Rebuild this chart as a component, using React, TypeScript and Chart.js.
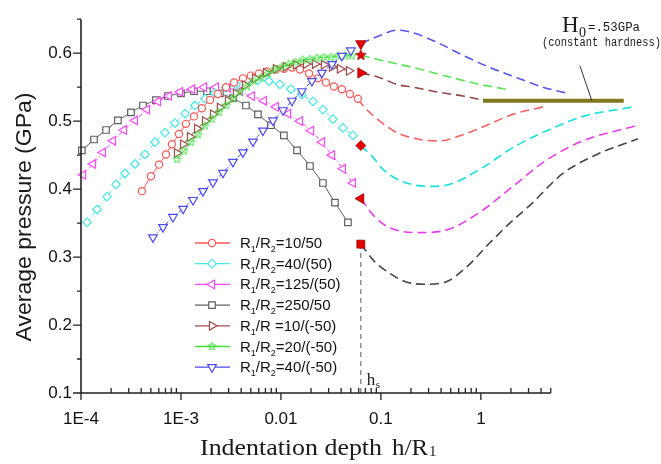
import React, { useEffect, useRef } from 'react';
import { Chart, registerables } from 'chart.js';

Chart.register(...registerables);

// ---------------- data ----------------
const hs = 0.063;

const redX = [4.07e-4, 5.01e-4, 6.03e-4, 7.08e-4, 8.13e-4, 9.55e-4, 1.12e-3, 1.35e-3, 1.62e-3, 1.95e-3, 2.34e-3, 2.82e-3, 3.39e-3, 4.17e-3, 5.01e-3, 6.03e-3, 7.24e-3, 8.91e-3, 1.07e-2, 1.29e-2, 1.55e-2, 1.91e-2, 2.34e-2, 2.82e-2, 3.39e-2, 4.07e-2, 4.90e-2, 5.89e-2];
const redY = [0.397, 0.419, 0.436, 0.451, 0.466, 0.481, 0.496, 0.507, 0.519, 0.531, 0.540, 0.550, 0.557, 0.563, 0.567, 0.570, 0.573, 0.576, 0.577, 0.579, 0.576, 0.570, 0.563, 0.557, 0.551, 0.547, 0.540, 0.533];
const redDashX = [5.89e-2, 6.61e-2, 9.77e-2, 0.145, 0.245, 0.389, 0.661, 1.15, 2.09, 4.17];
const redDashY = [0.533, 0.523, 0.500, 0.483, 0.473, 0.471, 0.480, 0.494, 0.510, 0.521];

const cyanX = [1.15e-4, 1.45e-4, 1.82e-4, 2.24e-4, 2.75e-4, 3.47e-4, 4.37e-4, 5.50e-4, 6.92e-4, 8.71e-4, 1.10e-3, 1.38e-3, 1.74e-3, 2.19e-3, 2.82e-3, 3.55e-3, 4.57e-3, 5.89e-3, 7.59e-3, 9.77e-3, 1.26e-2, 1.62e-2, 2.09e-2, 2.63e-2, 3.31e-2, 4.17e-2, 5.25e-2];
const cyanY = [0.351, 0.370, 0.389, 0.407, 0.423, 0.437, 0.451, 0.469, 0.483, 0.497, 0.511, 0.523, 0.533, 0.541, 0.549, 0.554, 0.559, 0.560, 0.559, 0.554, 0.547, 0.539, 0.529, 0.517, 0.503, 0.490, 0.479];
const cyanDashX = [0.063, 0.0832, 0.105, 0.166, 0.309, 0.490, 0.977, 2.09, 4.57, 10.5, 33.1];
const cyanDashY = [0.464, 0.447, 0.429, 0.411, 0.404, 0.407, 0.429, 0.461, 0.486, 0.507, 0.521];

const magentaX = [1.05e-4, 1.32e-4, 1.66e-4, 2.09e-4, 2.69e-4, 3.47e-4, 4.57e-4, 5.89e-4, 7.59e-4, 9.77e-4, 1.29e-3, 1.70e-3, 2.24e-3, 2.95e-3, 3.89e-3, 5.13e-3, 6.76e-3, 8.91e-3, 1.18e-2, 1.55e-2, 2.00e-2, 2.57e-2, 3.24e-2, 4.17e-2, 5.25e-2];
const magentaY = [0.421, 0.437, 0.454, 0.471, 0.487, 0.501, 0.517, 0.529, 0.537, 0.543, 0.547, 0.550, 0.550, 0.549, 0.544, 0.537, 0.530, 0.521, 0.511, 0.500, 0.486, 0.469, 0.450, 0.430, 0.409];
const magentaDashX = [0.063, 0.0871, 0.123, 0.245, 0.457, 0.977, 2.09, 4.57, 10.5, 34.7];
const magentaDashY = [0.386, 0.359, 0.343, 0.336, 0.340, 0.366, 0.404, 0.443, 0.471, 0.493];

const grayX = [1.02e-4, 1.35e-4, 1.78e-4, 2.34e-4, 3.16e-4, 4.17e-4, 5.62e-4, 7.41e-4, 1.00e-3, 1.35e-3, 1.82e-3, 2.45e-3, 3.31e-3, 4.47e-3, 5.89e-3, 7.94e-3, 1.07e-2, 1.45e-2, 1.95e-2, 2.63e-2, 3.47e-2, 4.68e-2];
const grayY = [0.457, 0.473, 0.487, 0.501, 0.513, 0.523, 0.531, 0.537, 0.541, 0.544, 0.544, 0.541, 0.534, 0.523, 0.510, 0.494, 0.479, 0.457, 0.434, 0.409, 0.380, 0.351];
const grayDashX = [0.063, 0.0871, 0.123, 0.174, 0.275, 0.437, 0.692, 1.23, 1.95, 3.09, 6.61, 14.5, 37.2];
const grayDashY = [0.319, 0.293, 0.276, 0.264, 0.260, 0.263, 0.283, 0.321, 0.350, 0.376, 0.423, 0.451, 0.474];

const brownX = [9.12e-4, 1.05e-3, 1.23e-3, 1.45e-3, 1.74e-3, 2.09e-3, 2.45e-3, 2.95e-3, 3.55e-3, 4.37e-3, 5.50e-3, 7.08e-3, 8.91e-3, 1.12e-2, 1.41e-2, 1.78e-2, 2.19e-2, 2.69e-2, 3.24e-2, 3.89e-2, 4.79e-2];
const brownY = [0.453, 0.466, 0.477, 0.489, 0.500, 0.510, 0.520, 0.530, 0.541, 0.553, 0.563, 0.571, 0.577, 0.580, 0.583, 0.584, 0.584, 0.583, 0.580, 0.577, 0.574];
const brownDashX = [0.063, 0.0977, 0.145, 0.209, 0.363, 0.661, 1.05];
const brownDashY = [0.571, 0.564, 0.554, 0.550, 0.543, 0.537, 0.531];

const greenX = [9.12e-4, 1.07e-3, 1.26e-3, 1.48e-3, 1.74e-3, 2.04e-3, 2.40e-3, 2.82e-3, 3.31e-3, 3.89e-3, 4.57e-3, 5.37e-3, 6.31e-3, 7.41e-3, 8.71e-3, 1.02e-2, 1.20e-2, 1.41e-2, 1.66e-2, 1.95e-2, 2.29e-2, 2.69e-2, 3.16e-2, 3.72e-2, 4.37e-2, 5.13e-2];
const greenY = [0.444, 0.456, 0.469, 0.480, 0.493, 0.503, 0.513, 0.523, 0.533, 0.543, 0.551, 0.559, 0.564, 0.570, 0.576, 0.580, 0.584, 0.587, 0.590, 0.591, 0.593, 0.594, 0.594, 0.596, 0.596, 0.596];
const greenDashX = [0.063, 0.0977, 0.209, 0.457, 0.977, 1.95];
const greenDashY = [0.597, 0.590, 0.579, 0.566, 0.554, 0.546];

const blueX = [5.25e-4, 6.61e-4, 8.32e-4, 1.05e-3, 1.32e-3, 1.66e-3, 2.09e-3, 2.63e-3, 3.31e-3, 4.17e-3, 5.25e-3, 6.61e-3, 8.32e-3, 1.05e-2, 1.29e-2, 1.62e-2, 2.04e-2, 2.57e-2, 3.24e-2, 4.07e-2, 5.01e-2];
const blueY = [0.329, 0.344, 0.359, 0.371, 0.384, 0.397, 0.410, 0.424, 0.440, 0.454, 0.470, 0.486, 0.501, 0.516, 0.530, 0.544, 0.559, 0.571, 0.584, 0.596, 0.604];
const blueDashX = [0.063, 0.0977, 0.145, 0.209, 0.363, 0.661, 1.23, 2.29, 4.17, 7.76];
const blueDashY = [0.614, 0.626, 0.634, 0.630, 0.616, 0.597, 0.579, 0.564, 0.550, 0.540];

// filled red marks at hs: cyan, magenta, gray, brown, green, blue
const hsMarkX = [hs, hs, hs, hs, hs, hs];
const hsMarkY = [0.464, 0.386, 0.319, 0.571, 0.597, 0.614];

const h0X = [1.05, 26.9];
const h0Y = [0.53, 0.53];
const hsLineY = [0.1, 0.319];
const leaderX = 12.9;

const xTickValues = [1e-4, 1e-3, 1e-2, 0.1, 1];
const xTickLabels = ['1E-4', '1E-3', '0.01', '0.1', '1'];
const yTickValues = [0.1, 0.2, 0.3, 0.4, 0.5, 0.6];
const yTickLabels = ['0.1', '0.2', '0.3', '0.4', '0.5', '0.6'];
const yMinorTicks = [0.15, 0.25, 0.35, 0.45, 0.55, 0.65];
const xMin = 1e-4;
const xMax = 40;
const xAxisEnd = 5;
const yMin = 0.1;
const yMax = 0.65;

const legendLabels = [
  'R_1/R_2=10/50',
  'R_1/R_2=40/(50)',
  'R_1/R_2=125/(50)',
  'R_1/R_2=250/50',
  'R_1/R =10/(-50)',
  'R_1/R_2=20/(-50)',
  'R_1/R_2=40/(-50)',
];

// ---------------- styles ----------------
const C = {
  red: 'rgb(255,85,85)',
  cyan: 'rgb(70,232,232)',
  magenta: 'rgb(255,70,255)',
  gray: 'rgb(95,95,95)',
  brown: 'rgb(165,75,75)',
  green: 'rgb(60,225,60)',
  blue: 'rgb(75,75,245)',
};
const CD = {
  red: 'rgb(245,95,95)',
  cyan: 'rgb(20,225,225)',
  magenta: 'rgb(235,60,235)',
  gray: 'rgb(70,70,70)',
  brown: 'rgb(150,70,70)',
  green: 'rgb(90,230,90)',
  blue: 'rgb(85,85,240)',
};
const MARK_RED = 'rgb(232,0,0)';
const SANS = '"Liberation Sans", Arial, sans-serif';
const SERIF = '"Liberation Serif", "Times New Roman", serif';
const MONO = '"Liberation Mono", monospace';

function pts(xs: number[], ys: number[]) {
  return xs.map((x, i) => ({ x, y: ys[i] }));
}

function makeStar(outer: number, inner: number, stroke: string, fill: string, lw: number) {
  const s = Math.ceil(outer * 2 + lw * 2 + 2);
  const c = document.createElement('canvas');
  c.width = s;
  c.height = s;
  const g = c.getContext('2d')!;
  g.beginPath();
  for (let k = 0; k < 10; k++) {
    const r = k % 2 === 0 ? outer : inner;
    const a = -Math.PI / 2 + (k * Math.PI) / 5;
    const px = s / 2 + r * Math.cos(a);
    const py = s / 2 + r * Math.sin(a);
    if (k === 0) g.moveTo(px, py);
    else g.lineTo(px, py);
  }
  g.closePath();
  g.fillStyle = fill;
  g.fill();
  g.strokeStyle = stroke;
  g.lineWidth = lw;
  g.stroke();
  return c;
}

function drawMarker(ctx: CanvasRenderingContext2D, style: any, x: number, y: number, r: number, rot: number, stroke: string, fill: string, lw: number) {
  ctx.save();
  ctx.translate(x, y);
  ctx.rotate((rot * Math.PI) / 180);
  if (typeof style !== 'string') {
    ctx.drawImage(style, -style.width / 2, -style.height / 2);
    ctx.restore();
    return;
  }
  ctx.beginPath();
  if (style === 'circle') ctx.arc(0, 0, r, 0, Math.PI * 2);
  else if (style === 'rect') {
    const s = r * Math.SQRT1_2;
    ctx.rect(-s, -s, 2 * s, 2 * s);
  } else if (style === 'rectRot') {
    ctx.moveTo(0, -r);
    ctx.lineTo(r, 0);
    ctx.lineTo(0, r);
    ctx.lineTo(-r, 0);
    ctx.closePath();
  } else if (style === 'triangle') {
    for (let k = 0; k < 3; k++) {
      const a = (k * 2 * Math.PI) / 3;
      const px = Math.sin(a) * r;
      const py = -Math.cos(a) * r;
      if (k === 0) ctx.moveTo(px, py);
      else ctx.lineTo(px, py);
    }
    ctx.closePath();
  }
  ctx.fillStyle = fill;
  ctx.fill();
  ctx.lineWidth = lw;
  ctx.strokeStyle = stroke;
  ctx.stroke();
  ctx.restore();
}

function drawSubText(ctx: CanvasRenderingContext2D, text: string, x: number, y: number, size: number, subSize: number, subDrop: number) {
  let cx = x;
  let i = 0;
  while (i < text.length) {
    if (text[i] === '_' && i + 1 < text.length) {
      ctx.font = `${subSize}px ${SANS}`;
      ctx.fillText(text[i + 1], cx, y + subDrop);
      cx += ctx.measureText(text[i + 1]).width;
      i += 2;
    } else {
      let j = i;
      while (j < text.length && text[j] !== '_') j++;
      const part = text.slice(i, j);
      ctx.font = `${size}px ${SANS}`;
      ctx.fillText(part, cx, y);
      cx += ctx.measureText(part).width;
      i = j;
    }
  }
}

function fitText(ctx: CanvasRenderingContext2D, text: string, x: number, y: number, w: number) {
  const m = ctx.measureText(text).width;
  ctx.save();
  ctx.translate(x, y);
  ctx.scale(w / m, 1);
  ctx.fillText(text, 0, 0);
  ctx.restore();
}

export default function App() {
  const ref = useRef<HTMLCanvasElement>(null);

  useEffect(() => {
    document.body.style.margin = '0';
    const canvas = ref.current!;
    const greenStar = makeStar(4.3, 1.9, C.green, 'rgba(255,255,255,0)', 1);
    const redStar = makeStar(5.6, 2.4, 'rgb(150,0,0)', MARK_RED, 0.8);

    const legendItems = [
      { color: C.red, style: 'circle', r: 3.6, rot: 0 },
      { color: C.cyan, style: 'rectRot', r: 4.3, rot: 0 },
      { color: C.magenta, style: 'triangle', r: 5, rot: -90 },
      { color: C.gray, style: 'rect', r: 4.6, rot: 0 },
      { color: C.brown, style: 'triangle', r: 5, rot: 90 },
      { color: C.green, style: greenStar as any, r: 4, rot: 0 },
      { color: C.blue, style: 'triangle', r: 5, rot: 180 },
    ];

    const markerSet = (data: any[], color: string, style: any, r: number, rot: number, dash: number[]) => ({
      data,
      showLine: true,
      borderColor: color,
      borderWidth: 1,
      borderDash: dash,
      backgroundColor: '#fff',
      pointBackgroundColor: '#fff',
      pointBorderColor: color,
      pointBorderWidth: 1.2,
      pointStyle: style,
      pointRadius: r,
      pointHoverRadius: r,
      pointRotation: rot,
      clip: false,
    });
    const dashSet = (data: any[], color: string) => ({
      data,
      showLine: true,
      borderColor: color,
      borderWidth: 1.6,
      borderDash: [9, 5],
      pointRadius: 0,
      pointHoverRadius: 0,
      cubicInterpolationMode: 'monotone',
      clip: false,
    });

    const decor = {
      id: 'decor',
      afterDraw(chart: any) {
        const ctx: CanvasRenderingContext2D = chart.ctx;
        const xs = chart.scales.x;
        const ys = chart.scales.y;
        const x0 = xs.getPixelForValue(xMin);
        const x1 = xs.getPixelForValue(xAxisEnd);
        const yb = ys.getPixelForValue(yMin);
        const yt = ys.getPixelForValue(yMax);
        ctx.save();
        // axes
        ctx.strokeStyle = '#222';
        ctx.lineWidth = 1.6;
        ctx.beginPath();
        ctx.moveTo(x0, yt);
        ctx.lineTo(x0, yb);
        ctx.lineTo(x1, yb);
        ctx.stroke();
        ctx.lineWidth = 1.3;
        ctx.beginPath();
        for (const v of xTickValues) {
          const p = xs.getPixelForValue(v);
          ctx.moveTo(p, yb);
          ctx.lineTo(p, yb + 7);
        }
        for (const d of xTickValues) {
          for (let m = 2; m <= 9; m++) {
            const v = d * m;
            if (v > xAxisEnd * 1.0001) break;
            const p = xs.getPixelForValue(v);
            ctx.moveTo(p, yb);
            ctx.lineTo(p, yb - 5);
          }
        }
        for (const v of yTickValues) {
          const p = ys.getPixelForValue(v);
          ctx.moveTo(x0, p);
          ctx.lineTo(x0 - 8, p);
        }
        for (const v of yMinorTicks) {
          const p = ys.getPixelForValue(v);
          ctx.moveTo(x0, p);
          ctx.lineTo(x0 - 4, p);
        }
        ctx.stroke();

        // y title
        ctx.fillStyle = '#1a1a1a';
        ctx.save();
        ctx.translate(31, 217);
        ctx.rotate(-Math.PI / 2);
        ctx.font = `22px ${SANS}`;
        ctx.textAlign = 'left';
        ctx.textBaseline = 'alphabetic';
        const yt1 = 'Average pressure (GPa)';
        const wy = ctx.measureText(yt1).width;
        ctx.scale(249 / wy, 1);
        ctx.fillText(yt1, -wy / 2, 0);
        ctx.restore();

        // x title
        ctx.textAlign = 'left';
        ctx.textBaseline = 'alphabetic';
        ctx.font = `23px ${SERIF}`;
        fitText(ctx, 'Indentation depth', 200, 455, 182);
        fitText(ctx, 'h/R', 392, 455, 36);
        ctx.font = `15px ${SERIF}`;
        ctx.fillText('1', 429, 456);

        // legend
        const lx0 = 195, lx1 = 230, lm = 212, ltx = 240, ly0 = 243, ldy = 20.7;
        legendItems.forEach((it, i) => {
          const y = ly0 + i * ldy;
          ctx.strokeStyle = it.color;
          ctx.lineWidth = 1.3;
          ctx.beginPath();
          ctx.moveTo(lx0, y);
          ctx.lineTo(lx1, y);
          ctx.stroke();
          drawMarker(ctx, it.style, lm, y, it.r, it.rot, it.color, '#fff', 1.2);
          ctx.fillStyle = '#111';
          drawSubText(ctx, legendLabels[i], ltx, y + 5, 15, 9, 4);
        });

        // H0 annotation
        ctx.fillStyle = '#1a1a1a';
        ctx.font = `23px ${SERIF}`;
        ctx.fillText('H', 562, 32);
        ctx.font = `14px ${SERIF}`;
        ctx.fillText('0', 579, 37);
        ctx.font = `12px ${MONO}`;
        fitText(ctx, '=.53GPa', 588, 31, 52);
        ctx.font = `12px ${MONO}`;
        fitText(ctx, '(constant hardness)', 542, 46, 119);
        const ex = xs.getPixelForValue(leaderX);
        const ey = ys.getPixelForValue(h0Y[0]);
        ctx.strokeStyle = '#333';
        ctx.lineWidth = 1;
        ctx.beginPath();
        ctx.moveTo(ex - 12, ey - 35);
        ctx.lineTo(ex, ey);
        ctx.stroke();

        // hs label
        const hx = xs.getPixelForValue(hs);
        ctx.font = `17px ${SERIF}`;
        ctx.fillText('h', hx + 6, 385);
        ctx.font = `11px ${SERIF}`;
        ctx.fillText('s', hx + 15, 388);
        ctx.restore();
      },
    };

    const chart = new Chart(canvas, {
      type: 'scatter',
      data: {
        datasets: [
          // hs filled marks
          {
            data: pts(hsMarkX, hsMarkY),
            showLine: false,
            pointStyle: ['rectRot', 'triangle', 'rect', 'triangle', redStar, 'triangle'] as any,
            pointRotation: [0, -90, 0, 90, 0, 180],
            pointRadius: [5, 5.8, 5.6, 6, 5, 6],
            pointBackgroundColor: MARK_RED,
            pointBorderColor: 'rgb(150,0,0)',
            pointBorderWidth: 0.8,
            clip: false,
          } as any,
          markerSet(pts(blueX, blueY), C.blue, 'triangle', 5, 180, [4, 2, 1, 2]),
          markerSet(pts(greenX, greenY), C.green, greenStar, 4, 0, []),
          markerSet(pts(brownX, brownY), C.brown, 'triangle', 5, 90, []),
          markerSet(pts(redX, redY), C.red, 'circle', 3.6, 0, []),
          markerSet(pts(cyanX, cyanY), C.cyan, 'rectRot', 4.3, 0, [4, 2, 1, 2]),
          markerSet(pts(magentaX, magentaY), C.magenta, 'triangle', 5, -90, [4, 2, 1, 2]),
          markerSet(pts(grayX, grayY), C.gray, 'rect', 4.6, 0, []),
          dashSet(pts(blueDashX, blueDashY), CD.blue),
          dashSet(pts(greenDashX, greenDashY), CD.green),
          dashSet(pts(brownDashX, brownDashY), CD.brown),
          dashSet(pts(redDashX, redDashY), CD.red),
          dashSet(pts(cyanDashX, cyanDashY), CD.cyan),
          dashSet(pts(magentaDashX, magentaDashY), CD.magenta),
          dashSet(pts(grayDashX, grayDashY), CD.gray),
          {
            data: pts(h0X, h0Y),
            showLine: true,
            borderColor: 'rgb(128,120,30)',
            borderWidth: 4,
            pointRadius: 0,
            clip: false,
          } as any,
          {
            data: pts([hs, hs], hsLineY),
            showLine: true,
            borderColor: 'rgb(90,90,90)',
            borderWidth: 1,
            borderDash: [5, 4],
            pointRadius: 0,
            clip: false,
          } as any,
        ] as any,
      },
      options: {
        animation: false,
        responsive: false,
        devicePixelRatio: 1,
        events: [],
        layout: { padding: { top: 8, right: 20, left: 0, bottom: 0 } },
        plugins: { legend: { display: false }, tooltip: { enabled: false } },
        scales: {
          x: {
            type: 'logarithmic',
            min: xMin,
            max: xMax,
            grid: { display: false, drawTicks: false },
            border: { display: false },
            afterBuildTicks: (s: any) => {
              s.ticks = xTickValues.map((v) => ({ value: v }));
            },
            afterFit: (s: any) => {
              s.height = 71;
            },
            ticks: {
              autoSkip: false,
              maxRotation: 0,
              padding: 16,
              color: '#111',
              font: { family: SANS, size: 17 },
              callback: (_v: any, i: number) => xTickLabels[i],
            },
          },
          y: {
            type: 'linear',
            min: yMin,
            max: yMax,
            grid: { display: false, drawTicks: false },
            border: { display: false },
            afterBuildTicks: (s: any) => {
              s.ticks = yTickValues.map((v) => ({ value: v }));
            },
            afterFit: (s: any) => {
              s.width = 81;
            },
            ticks: {
              padding: 9,
              color: '#111',
              font: { family: SANS, size: 17 },
              callback: (_v: any, i: number) => yTickLabels[i],
            },
          },
        },
      } as any,
      plugins: [decor],
    });

    return () => chart.destroy();
  }, []);

  return (
    <div style={{ width: 661, height: 464 }}>
      <canvas ref={ref} width={661} height={464} style={{ display: 'block' }} />
    </div>
  );
}
